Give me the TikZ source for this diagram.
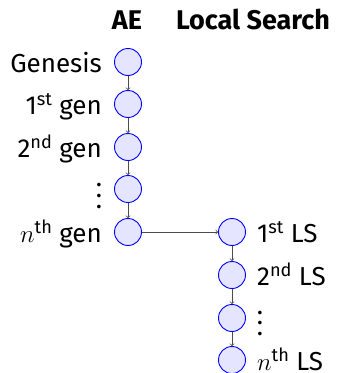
\documentclass[tikz,border=0pt]{standalone}
\usepackage{fontspec}
\setmainfont{Fira Sans}
\newcommand{\mydots}{\vbox{\baselineskip=10.5pt\lineskiplimit=-20pt\hbox{.}\hbox{.}\hbox{.}}}
\begin{document}
\begin{tikzpicture}[x=1pt,y=-1pt,
  st/.style={circle, draw=blue, fill=blue!10, line width=0.9pt, minimum size=27pt, inner sep=0pt},
  ar/.style={->, draw=black!70, line width=0.8pt},
  lbl/.style={inner sep=0pt, font=\fontsize{26}{30}\selectfont},
  hdr/.style={inner sep=0pt, font=\fontsize{27}{32}\selectfont\bfseries}]
\useasboundingbox (0,0) rectangle (338,373);
\node[hdr, anchor=base] (hae) at (127,29) {AE};
\node[hdr, anchor=base] (hls) at (253,29) {Local Search};
\node[st] (a0) at (128,62) {};
\node[st] (a1) at (128,104) {};
\node[st] (a2) at (128,147) {};
\node[st] (a3) at (128,189) {};
\node[st] (a4) at (128,232) {};
\node[st] (b1) at (232,232) {};
\node[st] (b2) at (232,275) {};
\node[st] (b3) at (232,318) {};
\node[st] (b4) at (232,360) {};
\node[lbl, anchor=base east] (la0) at ([xshift=-12pt,yshift=-10.5pt]a0.west) {Genesis};
\node[lbl, anchor=base east] (la1) at ([xshift=-12pt,yshift=-10.5pt]a1.west) {1\textsuperscript{st} gen};
\node[lbl, anchor=base east] (la2) at ([xshift=-12pt,yshift=-10.5pt]a2.west) {2\textsuperscript{nd} gen};
\node[lbl, anchor=center] (la3) at (99,196) {\mydots};
\node[lbl, anchor=base east] (la4) at ([xshift=-12pt,yshift=-10.5pt]a4.west) {$n$\textsuperscript{th} gen};
\node[lbl, anchor=base west] (lb1) at ([xshift=11pt,yshift=-10.5pt]b1.east) {1\textsuperscript{st} LS};
\node[lbl, anchor=base west] (lb2) at ([xshift=11pt,yshift=-10.5pt]b2.east) {2\textsuperscript{nd} LS};
\node[lbl, anchor=center] (lb3) at (260,323) {\mydots};
\node[lbl, anchor=base west] (lb4) at ([xshift=11pt,yshift=-10.5pt]b4.east) {$n$\textsuperscript{th} LS};
\draw[ar] (a0) -- (a1);
\draw[ar] (a1) -- (a2);
\draw[ar] (a2) -- (a3);
\draw[ar] (a3) -- (a4);
\draw[ar] (a4) -- (b1);
\draw[ar] (b1) -- (b2);
\draw[ar] (b2) -- (b3);
\draw[ar] (b3) -- (b4);
\end{tikzpicture}
\end{document}
